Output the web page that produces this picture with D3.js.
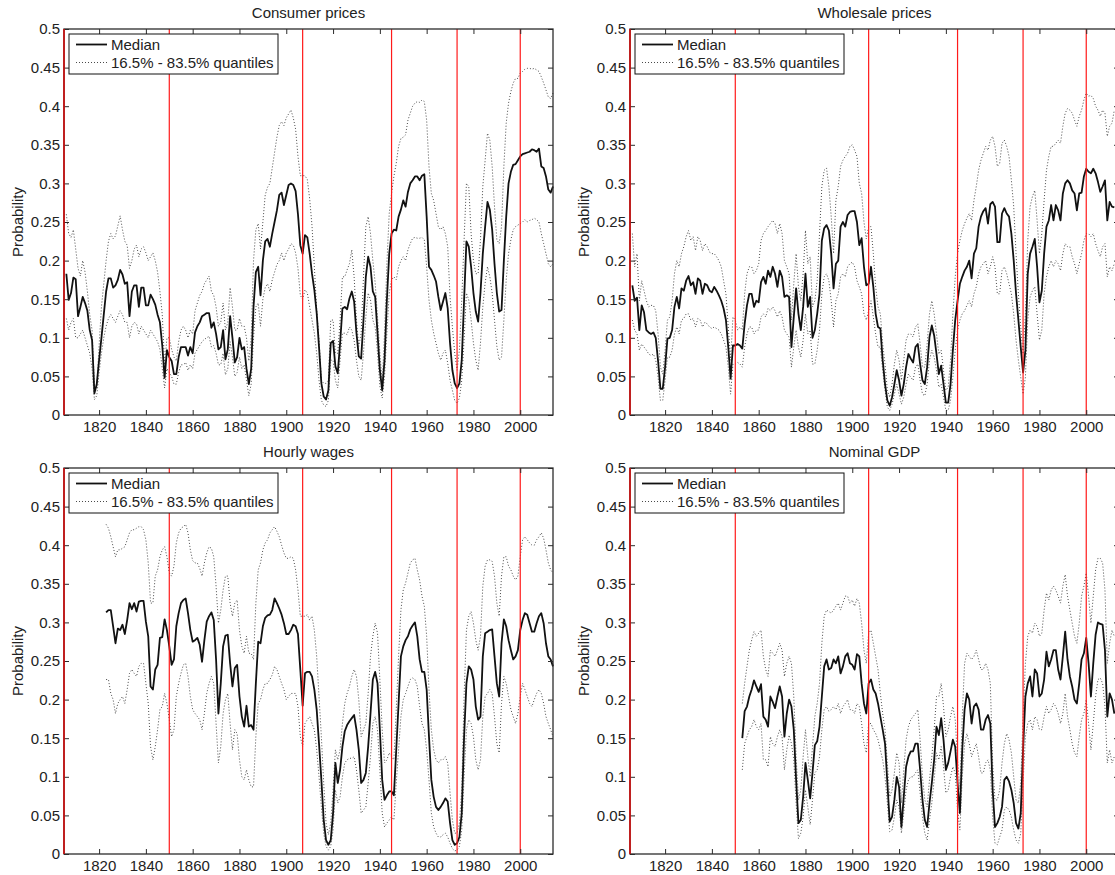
<!DOCTYPE html>
<html>
<head>
<meta charset="utf-8">
<script src="https://cdn.jsdelivr.net/npm/d3@7/dist/d3.min.js"></script>
<style>
  html, body { margin: 0; padding: 0; background: #fff; }
  svg { display: block; }
  text { font-family: "Liberation Sans", Arial, Helvetica, sans-serif; fill: #222; }
</style>
</head>
<body>
<svg id="chart" width="1115" height="875"></svg>
<script>
// ---------------- DATA ----------------
const panelTitles = ["Consumer prices", "Wholesale prices", "Hourly wages", "Nominal GDP"];
const legendLabels = ["Median", "16.5% - 83.5% quantiles"];
const yTickValues = [0, 0.05, 0.1, 0.15, 0.2, 0.25, 0.3, 0.35, 0.4, 0.45, 0.5];
const yTickLabels = ["0", "0.05", "0.1", "0.15", "0.2", "0.25", "0.3", "0.35", "0.4", "0.45", "0.5"];
const xTickValues = [1820, 1840, 1860, 1880, 1900, 1920, 1940, 1960, 1980, 2000];
const xTickLabels = ["1820", "1840", "1860", "1880", "1900", "1920", "1940", "1960", "1980", "2000"];
const yearDomain = [1805, 2014];
const breakYears = [1805, 1850, 1907, 1945, 1973, 2000];

// Consumer prices (annual, from 1806)
const cpiStart = 1806;
const cpiMedian = [
  0.183,0.149,0.158,0.178,
  0.176,0.128,0.14,0.153,0.145,0.135,0.11,0.097,0.028,0.04,
  0.071,0.1,0.13,0.16,0.177,0.177,0.165,0.168,0.175,0.188,
  0.182,0.17,0.172,0.128,0.16,0.168,0.168,0.14,0.165,0.165,
  0.142,0.142,0.156,0.15,0.143,0.13,0.12,0.09,0.048,0.084,
  0.075,0.07,0.053,0.053,0.075,0.088,0.088,0.088,0.077,0.088,
  0.08,0.107,0.115,0.12,0.128,0.13,0.132,0.132,0.113,0.12,
  0.105,0.085,0.088,0.11,0.072,0.085,0.128,0.1,0.068,0.075,
  0.1,0.085,0.088,0.06,0.04,0.06,0.14,0.185,0.192,0.155,
  0.2,0.225,0.228,0.218,0.235,0.25,0.265,0.285,0.288,0.272,
  0.285,0.298,0.3,0.298,0.29,0.26,0.22,0.209,0.233,0.23,
  0.209,0.183,0.162,0.132,0.088,0.041,0.024,0.02,0.032,0.093,
  0.096,0.063,0.054,0.093,0.138,0.14,0.137,0.151,0.16,0.147,
  0.106,0.076,0.073,0.123,0.179,0.205,0.192,0.16,0.153,0.106,
  0.058,0.032,0.071,0.149,0.209,0.235,0.24,0.239,0.257,0.266,
  0.278,0.27,0.289,0.3,0.304,0.309,0.309,0.304,0.31,0.312,
  0.257,0.192,0.188,0.181,0.173,0.153,0.136,0.147,0.158,0.138,
  0.093,0.058,0.041,0.035,0.041,0.071,0.149,0.225,0.218,0.192,
  0.158,0.134,0.121,0.158,0.209,0.244,0.276,0.266,0.24,0.196,
  0.158,0.134,0.136,0.2,0.257,0.3,0.315,0.324,0.325,0.33,
  0.335,0.338,0.339,0.34,0.341,0.344,0.343,0.341,0.345,0.322,
  0.32,0.309,0.292,0.288,0.296
];
const cpiUpper = [
  0.26,0.235,0.23,0.24,
  0.215,0.19,0.18,0.2,0.185,0.16,0.13,0.11,0.04,0.035,
  0.09,0.14,0.17,0.2,0.225,0.235,0.228,0.232,0.245,0.258,
  0.24,0.225,0.22,0.19,0.2,0.215,0.22,0.205,0.215,0.218,
  0.21,0.2,0.205,0.21,0.2,0.185,0.16,0.13,0.065,0.1,
  0.1,0.085,0.075,0.07,0.095,0.11,0.115,0.11,0.1,0.11,
  0.105,0.135,0.145,0.155,0.16,0.17,0.175,0.18,0.16,0.155,
  0.14,0.115,0.12,0.145,0.11,0.12,0.165,0.14,0.11,0.11,
  0.125,0.115,0.115,0.1,0.07,0.1,0.2,0.24,0.248,0.215,
  0.25,0.285,0.295,0.3,0.32,0.34,0.36,0.375,0.38,0.375,
  0.385,0.39,0.395,0.385,0.37,0.335,0.31,0.31,0.31,0.305,
  0.28,0.245,0.192,0.136,0.097,0.045,0.041,0.041,0.045,0.123,
  0.123,0.08,0.08,0.123,0.179,0.179,0.188,0.196,0.214,0.179,
  0.123,0.089,0.106,0.179,0.244,0.257,0.235,0.2,0.171,0.127,
  0.08,0.041,0.106,0.196,0.261,0.287,0.309,0.326,0.348,0.358,
  0.36,0.363,0.382,0.391,0.4,0.404,0.406,0.405,0.408,0.406,
  0.382,0.322,0.287,0.278,0.261,0.244,0.24,0.244,0.235,0.218,
  0.153,0.114,0.08,0.058,0.084,0.149,0.227,0.3,0.296,0.235,
  0.2,0.183,0.183,0.227,0.296,0.33,0.365,0.356,0.322,0.27,
  0.227,0.222,0.244,0.322,0.378,0.404,0.419,0.43,0.436,0.436,
  0.443,0.445,0.448,0.449,0.449,0.448,0.449,0.447,0.445,0.438,
  0.43,0.421,0.412,0.41,0.417
];
const cpiLower = [
  0.125,0.11,0.12,0.125,
  0.1,0.1,0.105,0.11,0.1,0.09,0.08,0.06,0.02,0.025,
  0.055,0.08,0.1,0.115,0.125,0.13,0.125,0.12,0.128,0.135,
  0.13,0.12,0.12,0.1,0.115,0.12,0.118,0.105,0.115,0.11,
  0.105,0.1,0.11,0.105,0.1,0.095,0.085,0.06,0.035,0.06,
  0.055,0.05,0.04,0.04,0.055,0.065,0.065,0.068,0.058,0.065,
  0.06,0.08,0.085,0.09,0.095,0.098,0.1,0.102,0.088,0.09,
  0.08,0.065,0.065,0.08,0.052,0.06,0.095,0.075,0.05,0.055,
  0.075,0.06,0.065,0.045,0.025,0.04,0.1,0.14,0.145,0.115,
  0.15,0.165,0.17,0.16,0.175,0.185,0.195,0.2,0.21,0.2,
  0.21,0.215,0.222,0.22,0.21,0.19,0.155,0.15,0.162,0.158,
  0.14,0.123,0.106,0.08,0.045,0.019,0.013,0.011,0.019,0.071,
  0.071,0.045,0.035,0.071,0.106,0.106,0.104,0.114,0.11,0.097,
  0.071,0.05,0.045,0.08,0.127,0.158,0.149,0.123,0.114,0.08,
  0.037,0.022,0.05,0.106,0.158,0.175,0.179,0.175,0.192,0.2,
  0.205,0.2,0.214,0.222,0.229,0.23,0.229,0.229,0.23,0.227,
  0.192,0.149,0.123,0.106,0.093,0.08,0.071,0.08,0.084,0.067,
  0.045,0.032,0.019,0.015,0.022,0.045,0.097,0.158,0.149,0.123,
  0.093,0.071,0.058,0.093,0.14,0.171,0.192,0.179,0.158,0.123,
  0.089,0.071,0.075,0.123,0.175,0.209,0.227,0.24,0.244,0.246,
  0.248,0.25,0.253,0.25,0.252,0.253,0.255,0.253,0.25,0.235,
  0.222,0.209,0.196,0.192,0.196
];

// Wholesale prices (annual, from 1806)
const wpiStart = 1806;
const wpiMedian = [
  0.168,0.148,0.152,0.11,
  0.142,0.133,0.11,0.107,0.105,0.107,0.1,0.07,0.034,0.034,
  0.062,0.099,0.1,0.11,0.14,0.153,0.138,0.164,0.161,0.174,
  0.18,0.168,0.172,0.157,0.177,0.174,0.157,0.17,0.168,0.161,
  0.159,0.166,0.161,0.155,0.148,0.138,0.123,0.088,0.047,0.09,
  0.09,0.092,0.09,0.086,0.118,0.142,0.157,0.157,0.14,0.148,
  0.146,0.172,0.179,0.17,0.187,0.179,0.192,0.183,0.166,0.187,
  0.179,0.153,0.155,0.153,0.088,0.127,0.164,0.131,0.11,0.14,
  0.183,0.14,0.153,0.1,0.11,0.131,0.157,0.226,0.242,0.246,
  0.239,0.209,0.164,0.196,0.2,0.244,0.25,0.244,0.259,0.263,
  0.264,0.264,0.25,0.22,0.229,0.192,0.168,0.17,0.192,0.166,
  0.131,0.114,0.112,0.071,0.04,0.019,0.012,0.023,0.04,0.058,
  0.045,0.025,0.04,0.062,0.079,0.073,0.068,0.088,0.092,0.066,
  0.045,0.04,0.062,0.101,0.116,0.103,0.079,0.053,0.064,0.04,
  0.016,0.016,0.04,0.084,0.123,0.148,0.17,0.179,0.187,0.192,
  0.2,0.177,0.209,0.216,0.244,0.257,0.264,0.268,0.248,0.273,
  0.276,0.27,0.224,0.224,0.261,0.268,0.261,0.257,0.235,0.2,
  0.157,0.123,0.088,0.055,0.084,0.183,0.209,0.218,0.228,0.192,
  0.146,0.161,0.209,0.244,0.252,0.272,0.252,0.272,0.265,0.252,
  0.287,0.3,0.304,0.3,0.291,0.287,0.265,0.287,0.288,0.309,
  0.319,0.315,0.313,0.319,0.313,0.302,0.289,0.296,0.304,0.252,
  0.276,0.27,0.269
];
const wpiUpper = [
  0.235,0.192,0.209,0.148,
  0.174,0.161,0.148,0.14,0.142,0.142,0.135,0.105,0.062,0.053,
  0.084,0.123,0.127,0.148,0.183,0.2,0.192,0.209,0.218,0.231,
  0.239,0.226,0.231,0.213,0.231,0.226,0.213,0.222,0.218,0.211,
  0.209,0.209,0.205,0.2,0.192,0.174,0.157,0.114,0.071,0.127,
  0.123,0.11,0.114,0.11,0.157,0.183,0.192,0.192,0.183,0.187,
  0.196,0.226,0.235,0.239,0.244,0.248,0.252,0.248,0.235,0.248,
  0.235,0.2,0.192,0.183,0.123,0.17,0.209,0.166,0.148,0.183,
  0.239,0.196,0.205,0.14,0.148,0.174,0.235,0.296,0.317,0.32,
  0.296,0.257,0.209,0.278,0.296,0.322,0.33,0.335,0.339,0.348,
  0.35,0.343,0.335,0.3,0.287,0.25,0.228,0.244,0.244,0.209,
  0.166,0.14,0.131,0.092,0.066,0.032,0.023,0.04,0.066,0.084,
  0.071,0.045,0.071,0.097,0.105,0.105,0.101,0.114,0.118,0.092,
  0.062,0.062,0.092,0.131,0.148,0.131,0.105,0.079,0.084,0.058,
  0.032,0.036,0.071,0.131,0.179,0.209,0.226,0.239,0.248,0.255,
  0.261,0.252,0.278,0.296,0.317,0.33,0.339,0.348,0.343,0.356,
  0.361,0.348,0.322,0.326,0.352,0.356,0.348,0.335,0.304,0.27,
  0.209,0.157,0.114,0.079,0.131,0.226,0.27,0.283,0.291,0.252,
  0.209,0.235,0.278,0.317,0.335,0.348,0.348,0.352,0.356,0.352,
  0.374,0.391,0.397,0.395,0.391,0.382,0.374,0.387,0.395,0.408,
  0.417,0.413,0.414,0.41,0.4,0.395,0.387,0.395,0.391,0.361,
  0.374,0.378,0.395
];
const wpiLower = [
  0.123,0.11,0.105,0.084,
  0.092,0.088,0.084,0.079,0.077,0.079,0.071,0.049,0.019,0.019,
  0.045,0.075,0.075,0.084,0.105,0.114,0.105,0.123,0.125,0.131,
  0.131,0.123,0.125,0.114,0.125,0.123,0.114,0.12,0.118,0.114,
  0.112,0.114,0.112,0.11,0.105,0.097,0.088,0.062,0.027,0.066,
  0.066,0.068,0.066,0.062,0.088,0.105,0.114,0.114,0.105,0.11,
  0.11,0.127,0.131,0.127,0.138,0.135,0.14,0.135,0.127,0.135,
  0.127,0.11,0.105,0.101,0.062,0.088,0.11,0.088,0.075,0.097,
  0.131,0.105,0.11,0.066,0.066,0.084,0.11,0.157,0.179,0.183,
  0.174,0.148,0.114,0.148,0.157,0.179,0.183,0.179,0.192,0.196,
  0.198,0.192,0.174,0.166,0.157,0.131,0.123,0.135,0.148,0.127,
  0.105,0.088,0.088,0.058,0.032,0.01,0.006,0.014,0.027,0.04,
  0.027,0.014,0.023,0.04,0.053,0.049,0.045,0.062,0.066,0.045,
  0.027,0.025,0.04,0.071,0.084,0.075,0.058,0.036,0.04,0.023,
  0.006,0.006,0.019,0.049,0.084,0.11,0.123,0.131,0.135,0.142,
  0.148,0.14,0.157,0.166,0.183,0.192,0.196,0.2,0.183,0.192,
  0.205,0.192,0.157,0.157,0.187,0.192,0.183,0.17,0.157,0.131,
  0.097,0.071,0.049,0.027,0.049,0.123,0.153,0.161,0.166,0.131,
  0.097,0.11,0.157,0.179,0.192,0.2,0.192,0.2,0.196,0.187,
  0.209,0.222,0.218,0.218,0.205,0.196,0.183,0.196,0.209,0.226,
  0.235,0.235,0.231,0.235,0.222,0.213,0.205,0.218,0.222,0.179,
  0.192,0.187,0.196
];

// Hourly wages (annual, from 1823)
const wageStart = 1823;
const wageMedian = [
  0.313,0.316,0.316,0.295,0.273,0.292,0.29,
  0.297,0.285,0.303,0.325,0.317,0.325,0.314,0.327,0.328,0.328,
  0.301,0.282,0.217,0.213,0.239,0.245,0.28,0.281,0.304,0.29,
  0.269,0.245,0.252,0.295,0.312,0.325,0.329,0.331,0.312,0.29,
  0.275,0.277,0.28,0.271,0.249,0.277,0.301,0.308,0.313,0.303,
  0.252,0.182,0.221,0.269,0.283,0.284,0.247,0.217,0.241,0.245,
  0.204,0.178,0.165,0.192,0.165,0.167,0.161,0.221,0.275,0.273,
  0.295,0.306,0.309,0.31,0.316,0.331,0.325,0.318,0.31,0.299,
  0.285,0.285,0.29,0.297,0.295,0.285,0.239,0.192,0.234,0.236,
  0.236,0.23,0.213,0.187,0.143,0.096,0.044,0.018,0.012,0.018,
  0.053,0.118,0.092,0.109,0.139,0.159,0.167,0.172,0.176,0.18,
  0.161,0.135,0.092,0.096,0.105,0.139,0.182,0.226,0.236,0.221,
  0.161,0.096,0.07,0.076,0.081,0.081,0.076,0.135,0.195,0.256,
  0.269,0.277,0.282,0.291,0.296,0.3,0.282,0.252,0.236,0.236,
  0.213,0.152,0.096,0.074,0.061,0.057,0.061,0.066,0.072,0.068,
  0.04,0.018,0.012,0.014,0.022,0.053,0.152,0.221,0.243,0.239,
  0.226,0.191,0.174,0.178,0.256,0.286,0.288,0.29,0.291,0.256,
  0.221,0.204,0.273,0.304,0.295,0.277,0.264,0.252,0.256,0.264,
  0.29,0.303,0.312,0.31,0.299,0.288,0.288,0.299,0.308,0.312,
  0.299,0.273,0.256,0.252,0.243
];
const wageUpper = [
  0.427,0.422,0.411,0.398,0.385,0.394,0.394,
  0.396,0.398,0.407,0.416,0.42,0.42,0.422,0.424,0.424,0.42,
  0.407,0.377,0.325,0.325,0.36,0.368,0.385,0.394,0.398,0.385,
  0.364,0.36,0.373,0.403,0.416,0.422,0.424,0.427,0.416,0.394,
  0.38,0.377,0.377,0.37,0.36,0.377,0.39,0.398,0.396,0.385,
  0.347,0.299,0.316,0.342,0.36,0.36,0.325,0.308,0.325,0.329,
  0.29,0.269,0.26,0.282,0.26,0.26,0.252,0.325,0.368,0.377,
  0.394,0.403,0.407,0.416,0.42,0.424,0.418,0.411,0.4,0.39,
  0.383,0.383,0.385,0.383,0.368,0.342,0.308,0.308,0.308,0.31,
  0.303,0.308,0.29,0.256,0.204,0.152,0.092,0.04,0.025,0.04,
  0.083,0.135,0.122,0.135,0.169,0.195,0.208,0.217,0.23,0.239,
  0.23,0.2,0.152,0.161,0.169,0.208,0.256,0.282,0.299,0.286,
  0.226,0.161,0.118,0.122,0.131,0.126,0.122,0.187,0.256,0.316,
  0.342,0.351,0.364,0.377,0.381,0.383,0.368,0.355,0.334,0.321,
  0.282,0.213,0.161,0.135,0.122,0.118,0.122,0.122,0.126,0.118,
  0.079,0.044,0.027,0.027,0.04,0.083,0.204,0.29,0.308,0.314,
  0.299,0.277,0.264,0.282,0.347,0.373,0.381,0.381,0.379,0.36,
  0.325,0.308,0.36,0.385,0.385,0.373,0.368,0.36,0.355,0.36,
  0.385,0.407,0.411,0.407,0.403,0.4,0.4,0.407,0.411,0.416,
  0.409,0.394,0.377,0.368,0.364
];
const wageLower = [
  0.226,0.226,0.208,0.2,0.182,0.195,0.2,
  0.204,0.195,0.213,0.234,0.239,0.234,0.23,0.243,0.247,0.247,
  0.221,0.195,0.139,0.122,0.139,0.161,0.187,0.191,0.208,0.195,
  0.174,0.152,0.161,0.204,0.221,0.234,0.245,0.247,0.23,0.204,
  0.187,0.182,0.178,0.174,0.161,0.182,0.208,0.221,0.23,0.221,
  0.169,0.118,0.139,0.182,0.2,0.208,0.169,0.135,0.161,0.156,
  0.122,0.1,0.096,0.109,0.096,0.087,0.087,0.152,0.195,0.2,
  0.213,0.221,0.221,0.226,0.232,0.243,0.239,0.23,0.221,0.213,
  0.2,0.204,0.208,0.208,0.208,0.191,0.152,0.139,0.169,0.174,
  0.178,0.169,0.161,0.135,0.1,0.061,0.027,0.01,0.005,0.01,
  0.031,0.083,0.066,0.074,0.1,0.118,0.122,0.124,0.124,0.126,
  0.109,0.083,0.053,0.057,0.061,0.092,0.126,0.169,0.178,0.161,
  0.109,0.053,0.035,0.04,0.044,0.048,0.044,0.092,0.135,0.178,
  0.2,0.208,0.217,0.226,0.228,0.226,0.217,0.191,0.169,0.161,
  0.135,0.096,0.053,0.035,0.027,0.022,0.022,0.025,0.027,0.022,
  0.014,0.007,0.004,0.005,0.01,0.031,0.1,0.161,0.174,0.169,
  0.152,0.122,0.109,0.122,0.178,0.204,0.208,0.213,0.208,0.178,
  0.143,0.131,0.195,0.23,0.221,0.204,0.187,0.178,0.169,0.182,
  0.204,0.221,0.213,0.204,0.195,0.191,0.2,0.208,0.213,0.208,
  0.195,0.178,0.169,0.161,0.152
];

// Nominal GDP (annual, from 1853)
const gdpStart = 1853;
const gdpMedian = [
  0.15,0.185,0.191,0.204,0.213,0.225,0.217,
  0.21,0.22,0.178,0.174,0.165,0.204,0.197,0.189,0.204,0.217,
  0.204,0.152,0.182,0.2,0.191,0.161,0.096,0.04,0.044,0.074,
  0.118,0.096,0.072,0.105,0.141,0.146,0.165,0.204,0.243,0.252,
  0.239,0.241,0.252,0.247,0.256,0.234,0.243,0.256,0.26,0.247,
  0.245,0.239,0.259,0.256,0.221,0.195,0.182,0.221,0.226,0.213,
  0.208,0.195,0.178,0.161,0.143,0.092,0.042,0.048,0.07,0.1,
  0.087,0.035,0.074,0.113,0.126,0.133,0.133,0.143,0.143,0.109,
  0.07,0.044,0.035,0.066,0.092,0.122,0.165,0.154,0.176,0.148,
  0.109,0.118,0.133,0.148,0.139,0.092,0.053,0.135,0.187,0.208,
  0.2,0.169,0.191,0.195,0.187,0.161,0.161,0.174,0.18,0.169,
  0.083,0.035,0.04,0.048,0.061,0.096,0.1,0.094,0.083,0.066,
  0.04,0.033,0.053,0.135,0.204,0.221,0.23,0.204,0.239,0.234,
  0.204,0.208,0.226,0.262,0.243,0.252,0.264,0.264,0.239,0.226,
  0.256,0.288,0.252,0.23,0.217,0.2,0.195,0.221,0.252,0.26,
  0.28,0.247,0.204,0.247,0.284,0.3,0.298,0.297,0.264,0.178,
  0.208,0.2,0.182
];
const gdpUpper = [
  0.195,0.221,0.243,0.264,0.277,0.288,0.282,
  0.286,0.29,0.256,0.239,0.23,0.264,0.26,0.256,0.264,0.273,
  0.264,0.23,0.247,0.256,0.247,0.204,0.126,0.07,0.083,0.126,
  0.161,0.126,0.1,0.139,0.178,0.195,0.221,0.273,0.308,0.316,
  0.314,0.312,0.316,0.321,0.325,0.316,0.325,0.334,0.334,0.325,
  0.329,0.321,0.331,0.325,0.299,0.264,0.247,0.286,0.29,0.273,
  0.256,0.239,0.208,0.182,0.161,0.118,0.074,0.083,0.105,0.131,
  0.118,0.066,0.109,0.148,0.165,0.174,0.178,0.182,0.187,0.148,
  0.1,0.07,0.061,0.096,0.126,0.161,0.204,0.204,0.221,0.191,
  0.152,0.161,0.178,0.191,0.174,0.122,0.083,0.178,0.247,0.26,
  0.256,0.252,0.256,0.264,0.252,0.239,0.239,0.247,0.239,0.221,
  0.118,0.07,0.07,0.083,0.118,0.143,0.156,0.148,0.131,0.1,
  0.07,0.066,0.092,0.178,0.247,0.282,0.29,0.286,0.299,0.295,
  0.282,0.286,0.316,0.338,0.329,0.342,0.347,0.342,0.334,0.325,
  0.347,0.362,0.334,0.316,0.299,0.282,0.273,0.299,0.334,0.347,
  0.364,0.334,0.299,0.334,0.368,0.383,0.383,0.377,0.342,0.247,
  0.273,0.29,0.282
];
const gdpLower = [
  0.109,0.143,0.152,0.161,0.165,0.174,0.165,
  0.161,0.169,0.122,0.122,0.113,0.152,0.143,0.139,0.152,0.161,
  0.152,0.109,0.135,0.154,0.143,0.122,0.066,0.02,0.027,0.048,
  0.083,0.061,0.038,0.07,0.105,0.109,0.126,0.161,0.187,0.191,
  0.185,0.187,0.191,0.187,0.195,0.182,0.191,0.195,0.2,0.187,
  0.187,0.182,0.195,0.191,0.169,0.143,0.131,0.169,0.169,0.161,
  0.156,0.148,0.135,0.122,0.1,0.066,0.029,0.031,0.048,0.07,
  0.061,0.027,0.053,0.083,0.096,0.1,0.1,0.105,0.109,0.079,
  0.048,0.027,0.018,0.044,0.066,0.096,0.131,0.122,0.139,0.113,
  0.079,0.083,0.1,0.113,0.105,0.057,0.031,0.1,0.143,0.156,
  0.143,0.126,0.135,0.143,0.126,0.105,0.105,0.118,0.122,0.109,
  0.048,0.014,0.012,0.022,0.031,0.057,0.061,0.057,0.048,0.031,
  0.018,0.014,0.027,0.092,0.152,0.169,0.174,0.161,0.178,0.174,
  0.161,0.161,0.178,0.191,0.182,0.187,0.195,0.191,0.182,0.169,
  0.182,0.208,0.178,0.161,0.143,0.131,0.126,0.152,0.174,0.182,
  0.2,0.169,0.135,0.169,0.204,0.226,0.228,0.221,0.191,0.118,
  0.135,0.118,0.126
];

// ---------------- LAYOUT ----------------
const panels = [
  { title: panelTitles[0], start: cpiStart,  med: cpiMedian,  up: cpiUpper,  lo: cpiLower,  x0: 64,  x1: 553,  yTop: 29,  yBot: 415 },
  { title: panelTitles[1], start: wpiStart,  med: wpiMedian,  up: wpiUpper,  lo: wpiLower,  x0: 630, x1: 1119, yTop: 29,  yBot: 415 },
  { title: panelTitles[2], start: wageStart, med: wageMedian, up: wageUpper, lo: wageLower, x0: 64,  x1: 553,  yTop: 468, yBot: 854 },
  { title: panelTitles[3], start: gdpStart,  med: gdpMedian,  up: gdpUpper,  lo: gdpLower,  x0: 630, x1: 1119, yTop: 468, yBot: 854 }
];

const FONT = 15;
const svg = d3.select("#chart");
const axisColor = "#2b2b2b";

panels.forEach((p, pi) => {
  const x = d3.scaleLinear().domain(yearDomain).range([p.x0, p.x1]);
  const y = d3.scaleLinear().domain([0, 0.5]).range([p.yBot, p.yTop]);
  const g = svg.append("g").attr("class", "panel panel-" + pi);

  const toPts = arr => arr.map((v, i) => [p.start + i, v]);
  const line = d3.line().x(d => x(d[0])).y(d => y(d[1]));

  // quantile bands (dotted)
  [p.up, p.lo].forEach(arr => {
    g.append("path")
      .datum(toPts(arr))
      .attr("d", line)
      .attr("fill", "none")
      .attr("stroke", "#4a4a4a")
      .attr("stroke-width", 1)
      .attr("stroke-dasharray", "1,2");
  });

  // median
  g.append("path")
    .datum(toPts(p.med))
    .attr("d", line)
    .attr("fill", "none")
    .attr("stroke", "#111")
    .attr("stroke-width", 1.8)
    .attr("stroke-linejoin", "round");

  // break lines
  g.selectAll("line.brk").data(breakYears).enter().append("line")
    .attr("class", "brk")
    .attr("x1", d => x(d)).attr("x2", d => x(d))
    .attr("y1", p.yTop).attr("y2", p.yBot)
    .attr("stroke", "#ff1a1a")
    .attr("stroke-width", 1.2);

  // axes (inward ticks)
  const yLeft = d3.axisLeft(y).tickValues(yTickValues)
    .tickFormat((d, i) => yTickLabels[i]).tickSizeInner(-5).tickSizeOuter(0).tickPadding(4);
  const yRight = d3.axisRight(y).tickValues(yTickValues).tickFormat("").tickSizeInner(-5).tickSizeOuter(0);
  const xBottom = d3.axisBottom(x).tickValues(xTickValues)
    .tickFormat((d, i) => xTickLabels[i]).tickSizeInner(-5).tickSizeOuter(0).tickPadding(6);
  const xTopAx = d3.axisTop(x).tickValues(xTickValues).tickFormat("").tickSizeInner(-5).tickSizeOuter(0);

  const gl = g.append("g").attr("transform", `translate(${p.x0},0)`).call(yLeft);
  const gr = g.append("g").attr("transform", `translate(${p.x1},0)`).call(yRight);
  const gb = g.append("g").attr("transform", `translate(0,${p.yBot})`).call(xBottom);
  const gt = g.append("g").attr("transform", `translate(0,${p.yTop})`).call(xTopAx);
  [gl, gr, gb, gt].forEach(a => {
    a.select(".domain").remove();
    a.selectAll(".tick line").attr("stroke", axisColor);
    a.selectAll(".tick text").attr("font-size", FONT).attr("fill", "#222")
      .attr("font-family", '"Liberation Sans", Arial, Helvetica, sans-serif');
  });

  // box
  g.append("rect")
    .attr("x", p.x0).attr("y", p.yTop)
    .attr("width", p.x1 - p.x0).attr("height", p.yBot - p.yTop)
    .attr("fill", "none").attr("stroke", axisColor).attr("stroke-width", 1.3);

  // left-edge break line on top of the axis
  g.append("line")
    .attr("x1", x(breakYears[0])).attr("x2", x(breakYears[0]))
    .attr("y1", p.yTop).attr("y2", p.yBot)
    .attr("stroke", "#e01010").attr("stroke-width", 1.4);

  // title
  g.append("text")
    .attr("x", (p.x0 + p.x1) / 2).attr("y", p.yTop - 11)
    .attr("text-anchor", "middle").attr("font-size", FONT)
    .text(p.title);

  // y label
  g.append("text")
    .attr("transform", `translate(${p.x0 - 41},${(p.yTop + p.yBot) / 2}) rotate(-90)`)
    .attr("text-anchor", "middle").attr("font-size", FONT)
    .text("Probability");

  // legend
  const lx = p.x0 + 5, ly = p.yTop + 5;
  const lg = g.append("g");
  lg.append("rect").attr("x", lx).attr("y", ly).attr("width", 209).attr("height", 40)
    .attr("fill", "#fff").attr("stroke", "#111").attr("stroke-width", 1);
  lg.append("line").attr("x1", lx + 7).attr("x2", lx + 38).attr("y1", ly + 10.5).attr("y2", ly + 10.5)
    .attr("stroke", "#111").attr("stroke-width", 1.8);
  lg.append("line").attr("x1", lx + 7).attr("x2", lx + 38).attr("y1", ly + 28.5).attr("y2", ly + 28.5)
    .attr("stroke", "#4a4a4a").attr("stroke-width", 1).attr("stroke-dasharray", "1,2");
  lg.append("text").attr("x", lx + 42).attr("y", ly + 16).attr("font-size", FONT).text(legendLabels[0]);
  lg.append("text").attr("x", lx + 42).attr("y", ly + 34).attr("font-size", FONT).text(legendLabels[1]);
});
</script>
</body>
</html>
